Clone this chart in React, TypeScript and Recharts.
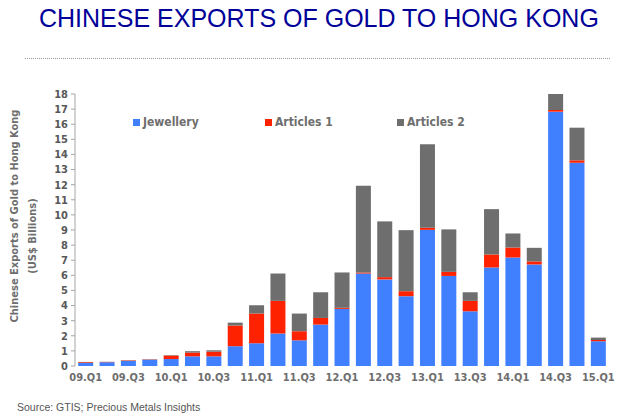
import { BarChart, Bar, XAxis, YAxis, Legend } from "recharts";

const QUARTERS = [
  "09.Q1", "09.Q2", "09.Q3", "09.Q4",
  "10.Q1", "10.Q2", "10.Q3", "10.Q4",
  "11.Q1", "11.Q2", "11.Q3", "11.Q4",
  "12.Q1", "12.Q2", "12.Q3", "12.Q4",
  "13.Q1", "13.Q2", "13.Q3", "13.Q4",
  "14.Q1", "14.Q2", "14.Q3", "14.Q4",
  "15.Q1",
];

// US$ billions
const JEWELLERY = [0.2, 0.25, 0.33, 0.42, 0.46, 0.64, 0.64, 1.31, 1.5, 2.15, 1.7, 2.74, 3.78, 6.12, 5.73, 4.62, 9.01, 5.96, 3.62, 6.52, 7.18, 6.72, 16.83, 13.45, 1.64];
const ARTICLES_1 = [0.05, 0.02, 0.04, 0.02, 0.23, 0.25, 0.31, 1.37, 1.97, 2.16, 0.6, 0.44, 0.07, 0.07, 0.15, 0.33, 0.14, 0.27, 0.69, 0.86, 0.66, 0.2, 0.11, 0.16, 0.08];
const ARTICLES_2 = [0.02, 0.01, 0.01, 0.01, 0.03, 0.09, 0.09, 0.19, 0.55, 1.81, 1.17, 1.7, 2.34, 5.74, 3.69, 4.04, 5.52, 2.81, 0.57, 3.0, 0.93, 0.9, 1.06, 2.16, 0.16];

const Y_TICKS = [0, 1, 2, 3, 4, 5, 6, 7, 8, 9, 10, 11, 12, 13, 14, 15, 16, 17, 18];

const SERIES = [
  { key: "jewellery", name: "Jewellery", color: "#4080FF" },
  { key: "articles1", name: "Articles 1", color: "#FF2200" },
  { key: "articles2", name: "Articles 2", color: "#6E6E6E" },
];

const data = QUARTERS.map((q, i) => ({
  q,
  jewellery: JEWELLERY[i],
  articles1: ARTICLES_1[i],
  articles2: ARTICLES_2[i],
}));

const boundaries = [...QUARTERS.map((_, i) => i), QUARTERS.length];

const LABEL_FONT = "'DejaVu Sans Condensed', 'DejaVu Sans', sans-serif";
const AXIS_GREY = "#A6A6A6";

function LegendBox() {
  return (
    <div style={{ display: "flex", fontFamily: LABEL_FONT, fontWeight: "bold", fontSize: 12, color: "#6E6E6E" }}>
      {SERIES.map((s) => (
        <div key={s.key} style={{ width: 132, display: "flex", alignItems: "center" }}>
          <span style={{ width: 7, height: 7, background: s.color, marginRight: 3, display: "inline-block" }} />
          {s.name}
        </div>
      ))}
    </div>
  );
}

function YTitle({ viewBox }: any) {
  const cy = viewBox.y + viewBox.height / 2;
  return (
    <g fontFamily={LABEL_FONT} fontWeight="bold" fontSize={11} fill="#6E6E6E">
      <text x={14} y={cy - 14} transform={`rotate(-90 14 ${cy - 14})`} textAnchor="middle" dominantBaseline="central">
        Chinese Exports of Gold to Hong Kong
      </text>
      <text x={32} y={cy + 6} transform={`rotate(-90 32 ${cy + 6})`} textAnchor="middle" dominantBaseline="central">
        (US$ Billions)
      </text>
    </g>
  );
}

export default function App() {
  return (
    <div style={{ position: "absolute", left: 0, top: 0, width: 621, height: 418, background: "#fff" }}>
      <div style={{ position: "absolute", left: 39, top: 6, fontFamily: "'Liberation Sans', Arial, sans-serif", fontSize: 25, lineHeight: "25px", color: "#000099", whiteSpace: "nowrap" }}>
        CHINESE EXPORTS OF GOLD TO HONG KONG
      </div>
      <div style={{ position: "absolute", left: 25, top: 58, width: 585, borderTop: "1px dotted #9a9a9a" }} />
      <BarChart width={621} height={418} data={data} margin={{ top: 94, right: 12, left: 30, bottom: 22 }} barCategoryGap="15%">
        <XAxis xAxisId="grid" type="number" domain={[0, QUARTERS.length]} ticks={boundaries} interval={0}
          allowDataOverflow height={0} tickSize={4} tickFormatter={() => ""}
          stroke={AXIS_GREY} axisLine={{ stroke: AXIS_GREY }} tickLine={{ stroke: AXIS_GREY }} />
        <XAxis xAxisId="cat" dataKey="q" interval={1} height={30} tickLine={false} axisLine={false}
          tickSize={4} tickMargin={3}
          tick={{ fill: "#6E6E6E", fontSize: 11, fontWeight: "bold", fontFamily: LABEL_FONT }} />
        <YAxis domain={[0, 18]} ticks={Y_TICKS} interval={0} width={45} allowDataOverflow
          tickSize={4} tickMargin={3} axisLine={{ stroke: AXIS_GREY }} tickLine={{ stroke: AXIS_GREY }}
          tick={{ fill: "#595959", fontSize: 11, fontWeight: "bold", fontFamily: LABEL_FONT }}
          label={<YTitle />} />
        <Legend layout="horizontal" verticalAlign="middle" align="center" content={() => <LegendBox />}
          wrapperStyle={{ top: 115, left: 133, width: "auto" }} />
        {SERIES.map((s) => (
          <Bar key={s.key} xAxisId="cat" dataKey={s.key} name={s.name} stackId="a" fill={s.color} isAnimationActive={false} />
        ))}
      </BarChart>
      <div style={{ position: "absolute", left: 17, top: 401, fontFamily: "'Liberation Sans', Arial, sans-serif", fontSize: 10.5, color: "#555" }}>
        Source: GTIS; Precious Metals Insights
      </div>
    </div>
  );
}
